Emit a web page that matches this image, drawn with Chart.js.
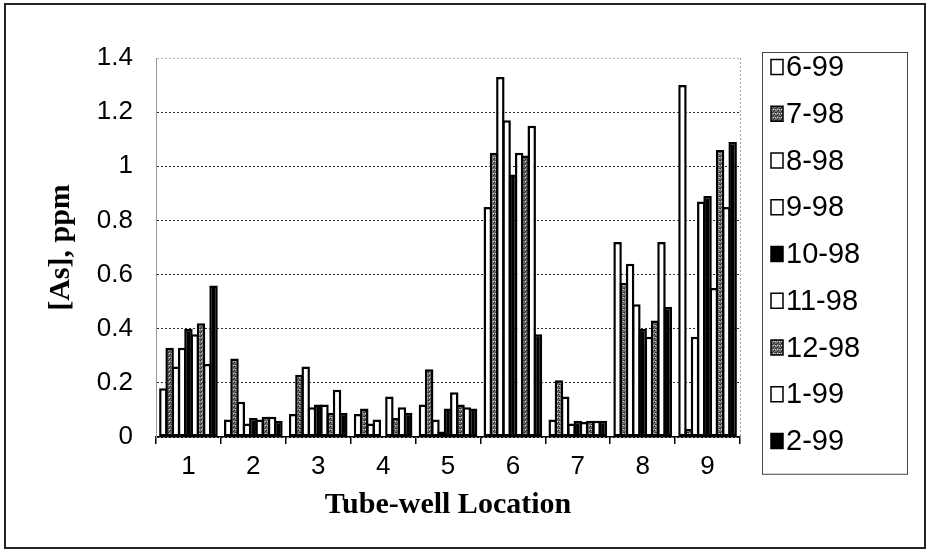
<!DOCTYPE html>
<html>
<head>
<meta charset="utf-8">
<title>Arsenic in tube-well water</title>
<script src="https://cdn.jsdelivr.net/npm/chart.js@4.4.1/dist/chart.umd.min.js"></script>
<style>
  html, body { margin: 0; padding: 0; background: #fff; }
  canvas { display: block; }
</style>
</head>
<body>
<canvas id="asChart" width="930" height="554"></canvas>
<script>
// tube-well locations along the x axis
const locations = ['1', '2', '3', '4', '5', '6', '7', '8', '9'];
const sampleDates = ['6-99', '7-98', '8-98', '9-98', '10-98', '11-98', '12-98', '1-99', '2-99'];

// [As] in ppm for each sampling round, one value per well
const jun99 = [0.18, 0.065, 0.085, 0.085, 0.12, 0.85, 0.065, 0.72, 1.30];
const jul98 = [0.33, 0.29, 0.23, 0.105, 0.25, 1.05, 0.21, 0.57, 0.03];
const aug98 = [0.26, 0.13, 0.26, 0.05, 0.065, 1.33, 0.15, 0.64, 0.37];
const sep98 = [0.33, 0.05, 0.11, 0.065, 0.02, 1.17, 0.05, 0.49, 0.87];
const oct98 = [0.40, 0.07, 0.12, 0, 0.105, 0.97, 0.06, 0.40, 0.89];
const nov98 = [0.38, 0.065, 0.12, 0.15, 0.165, 1.05, 0.055, 0.37, 0.55];
const dec98 = [0.42, 0.075, 0.09, 0.07, 0.12, 1.04, 0.06, 0.43, 1.06];
const jan99 = [0.27, 0.075, 0.175, 0.11, 0.11, 1.15, 0.06, 0.72, 0.85];
const feb99 = [0.56, 0.06, 0.09, 0.09, 0.105, 0.38, 0.06, 0.48, 1.09];

const yTicks = [0, 0.2, 0.4, 0.6, 0.8, 1, 1.2, 1.4];

const series = [jun99, jul98, aug98, sep98, oct98, nov98, dec98, jan99, feb99];
const fills = ['white', 'gray', 'white', 'white', 'black', 'white', 'gray', 'white', 'black'];

const canvas = document.getElementById('asChart');
const ctx = canvas.getContext('2d');

// speckled grey like a photocopied hatch
function stipple() {
    const tile = document.createElement('canvas');
    tile.width = tile.height = 4;
    const g = tile.getContext('2d');
    g.fillStyle = '#707070';
    g.fillRect(0, 0, 4, 4);
    g.fillStyle = '#262626';
    g.fillRect(0, 0, 1, 1);
    g.fillRect(2, 2, 1, 1);
    g.fillRect(1, 3, 1, 1);
    g.fillRect(3, 0, 1, 1);
    g.fillStyle = '#cfcfcf';
    g.fillRect(3, 1, 1, 1);
    g.fillRect(1, 1, 1, 1);
    return ctx.createPattern(tile, 'repeat');
}
const grey = stipple();
const fillOf = { white: '#ffffff', gray: grey, black: '#000000' };

// Chart.js paints the first dataset on top; here later rounds overlap earlier ones
const seriesOrder = {
    id: 'seriesOrder',
    beforeDatasetsDraw(chart) {
        const { ctx, chartArea: a } = chart;
        ctx.save();
        ctx.strokeStyle = '#a0a0a0';
        ctx.lineWidth = 1;
        ctx.setLineDash([2, 2]);
        ctx.beginPath();
        ctx.moveTo(Math.round(a.right) + 0.5, a.top);
        ctx.lineTo(Math.round(a.right) + 0.5, a.bottom);
        ctx.stroke();
        ctx.restore();
        chart.data.datasets.forEach((ds, i) => chart.getDatasetMeta(i).controller.draw());
        return false;
    }
};

const sideLegend = {
    id: 'sideLegend',
    afterDraw(chart) {
        const { ctx, chartArea } = chart;
        const sets = chart.data.datasets;
        const left = chartArea.right + 22;
        const top = chartArea.top - 6;
        const step = 46.75;
        ctx.save();
        ctx.strokeStyle = '#444';
        ctx.lineWidth = 1;
        ctx.strokeRect(Math.round(left) + 0.5, top + 0.5, 145, sets.length * step + 1);
        ctx.font = '29px "Liberation Sans", Arial, sans-serif';
        ctx.textBaseline = 'middle';
        sets.forEach((ds, i) => {
            const cy = top + 15 + i * step;
            ctx.fillStyle = ds.backgroundColor;
            ctx.fillRect(left + 9, cy - 7.5, 12, 15);
            ctx.strokeStyle = '#000';
            ctx.lineWidth = 1.5;
            ctx.strokeRect(left + 9, cy - 7.5, 12, 15);
            ctx.fillStyle = '#000';
            ctx.fillText(ds.label, left + 24, cy + 1);
        });
        // outer frame
        ctx.strokeStyle = '#222';
        ctx.lineWidth = 2;
        ctx.strokeRect(5, 4, 920, 544);
        ctx.restore();
    }
};

new Chart(ctx, {
    type: 'bar',
    data: {
        labels: locations,
        datasets: series.map((values, i) => ({
            label: sampleDates[i],
            data: values,
            backgroundColor: fillOf[fills[i]],
            borderColor: '#000',
            borderWidth: 2.5,
            borderSkipped: false,
            categoryPercentage: 0.87,
            barPercentage: 1.35
        }))
    },
    options: {
        responsive: false,
        animation: false,
        layout: { padding: { top: 58, right: 190, left: 0, bottom: 0 } },
        plugins: {
            legend: { display: false },
            tooltip: { enabled: false }
        },
        scales: {
            x: {
                grid: { offset: true, drawOnChartArea: false, drawTicks: true, tickLength: 7, color: '#000', lineWidth: 1.5 },
                border: { color: '#000', width: 1.5 },
                ticks: {
                    color: '#000',
                    padding: 7,
                    font: { family: '"Liberation Sans", Arial, sans-serif', size: 26 }
                },
                title: {
                    display: true,
                    text: 'Tube-well Location',
                    color: '#000',
                    padding: { top: 0, bottom: 31 },
                    font: { family: '"Liberation Serif", "Times New Roman", serif', size: 30, weight: 'bold' }
                },
                afterFit(scale) { scale.height = 117; }
            },
            y: {
                min: 0,
                max: 1.4,
                afterBuildTicks(scale) { scale.ticks = yTicks.map(v => ({ value: v })); },
                grid: {
                    drawTicks: false,
                    color: c => c.tick.value === 1.4 ? '#b4b4b4' : '#2a2a2a',
                    lineWidth: 1
                },
                border: { color: '#9a9a9a', width: 1, dash: [2, 2] },
                ticks: {
                    color: '#000',
                    padding: 23,
                    callback: v => String(+v.toFixed(1)),
                    font: { family: '"Liberation Sans", Arial, sans-serif', size: 26 }
                },
                title: {
                    display: true,
                    text: '[As], ppm',
                    color: '#000',
                    padding: { top: 43, bottom: 0 },
                    font: { family: '"Liberation Serif", "Times New Roman", serif', size: 30, weight: 'bold' }
                },
                afterFit(scale) { scale.width = 156; }
            }
        }
    },
    plugins: [seriesOrder, sideLegend]
});
</script>
</body>
</html>
